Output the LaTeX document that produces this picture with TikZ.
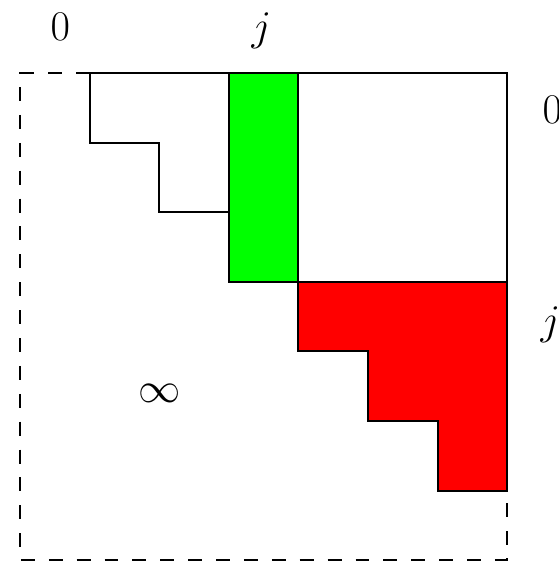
\documentclass[tikz,border=0pt]{standalone}
\begin{document}
\begin{tikzpicture}[x=1cm,y=1cm,
  edge/.style={draw=black,line width=0.8pt,line join=miter},
  dashline/.style={draw=black,line width=0.8pt,dash pattern=on 5.7pt off 5.7pt},
  lab/.style={font=\fontsize{17.3}{20}\selectfont,inner sep=0pt,anchor=base}]
\useasboundingbox (-0.287,1.049) rectangle (7.744,-7.026);
% dashed outline
\path[dashline] (1,0) -- (0,0) -- (0,-7) -- (7,-7) -- (7,-6);
% white square
\path[edge] (4,0) rectangle (7,-3);
% top line and staircase
\path[edge] (3,0) -- (1,0) -- (1,-1) -- (2,-1) -- (2,-2) -- (3,-2);
% green column
\path[edge,fill=green] (3,0) rectangle (4,-3);
% red staircase
\path[edge,fill=red] (4,-3) -- (7,-3) -- (7,-6) -- (6,-6) -- (6,-5) -- (5,-5) -- (5,-4) -- (4,-4) -- cycle;
% labels
\node[lab] (c0) at (0.58,0.47) {$0$};
\node[lab] (cj) at (3.47,0.47) {$j$};
\node[lab] (r0) at (7.65,-0.73) {$0$};
\node[lab] (rj) at (7.62,-3.75) {$j$};
\node[font=\fontsize{17.3}{20}\selectfont,inner sep=0pt] (inf) at (2.0,-4.6) {$\infty$};
\end{tikzpicture}
\end{document}
